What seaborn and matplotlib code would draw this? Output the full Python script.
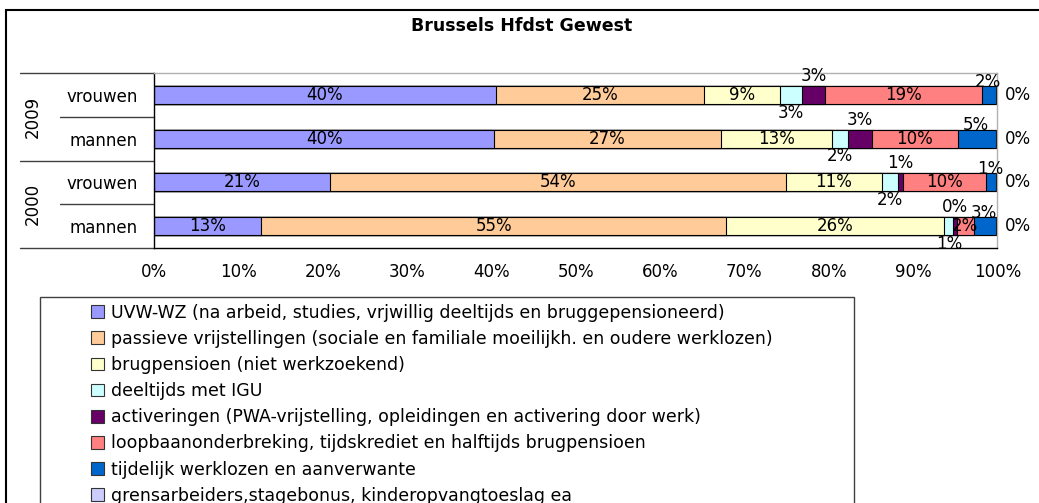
import matplotlib
matplotlib.use("Agg")
import matplotlib.pyplot as plt
import matplotlib.transforms as mtransforms
from matplotlib.patches import Patch, Rectangle
import numpy as np
import pandas as pd
import seaborn as sns

# rows, top to bottom
years = ["2009", "2009", "2000", "2000"]
genders = ["vrouwen", "mannen", "vrouwen", "mannen"]

# shares in % per series
uvw = [40.5, 40.3, 20.8, 12.7]
passief = [24.7, 26.9, 54.1, 55.1]
brug = [9.0, 13.2, 11.4, 25.9]
igu = [2.6, 1.9, 1.9, 1.1]
activ = [2.8, 2.8, 0.6, 0.4]
loopbaan = [18.6, 10.2, 9.9, 2.0]
tijdelijk = [1.7, 4.6, 1.2, 2.7]
grens = [0.1, 0.1, 0.1, 0.1]

series_names = [
    "UVW-WZ (na arbeid, studies, vrjwillig deeltijds en bruggepensioneerd)",
    "passieve vrijstellingen (sociale en familiale moeilijkh. en oudere werklozen)",
    "brugpensioen (niet werkzoekend)",
    "deeltijds met IGU",
    "activeringen (PWA-vrijstelling, opleidingen en activering door werk)",
    "loopbaanonderbreking, tijdskrediet en halftijds brugpensioen",
    "tijdelijk werklozen en aanverwante",
    "grensarbeiders,stagebonus, kinderopvangtoeslag ea",
]
series_values = [uvw, passief, brug, igu, activ, loopbaan, tijdelijk, grens]
colors = ["#9999FF", "#FFCC99", "#FFFFCC", "#CCFFFF",
          "#660066", "#FF8080", "#0066CC", "#CCCCFF"]
# where the value label sits for each series
label_pos = ["in", "in", "in", "below", "above", "in", "edge", "right"]

xticks = list(range(0, 101, 10))

sns.set_style("white")
plt.rcParams["font.family"] = ["DejaVu Sans"]
plt.rcParams["text.color"] = "black"
plt.rcParams["xtick.color"] = "black"
plt.rcParams["ytick.color"] = "black"
plt.rcParams["xtick.labelcolor"] = "black"
plt.rcParams["ytick.labelcolor"] = "black"
FS = 12

row_ids = [f"{y} {g}" for y, g in zip(years, genders)]
df = pd.DataFrame(np.array(series_values).T, columns=series_names, index=row_ids)
cum = df.cumsum(axis=1)
left = cum - df

fig = plt.figure(figsize=(10.39, 5.03), dpi=100)
ax = fig.add_axes([154.3 / 1039, (503 - 248) / 503, 843 / 1039, 175 / 503])

# stacked bars: draw cumulative totals from longest to shortest
for name, color in reversed(list(zip(series_names, colors))):
    sns.barplot(x=cum[name].values, y=row_ids, order=row_ids, orient="h",
                color=color, width=0.41, edgecolor="black", linewidth=0.8,
                errorbar=None, saturation=1, ax=ax)

# value labels
for name, pos in zip(series_names, label_pos):
    for i, rid in enumerate(row_ids):
        v = df.loc[rid, name]
        txt = f"{round(v):.0f}%"
        xc = left.loc[rid, name] + v / 2
        if pos == "in":
            ax.text(xc, i, txt, ha="center", va="center", fontsize=FS)
        elif pos == "below":
            ax.annotate(txt, (xc, i), xytext=(0, -12.7), textcoords="offset points",
                        ha="center", va="center", fontsize=FS)
        elif pos == "above":
            ax.annotate(txt, (xc, i), xytext=(0, 13.7), textcoords="offset points",
                        ha="center", va="center", fontsize=FS)
        elif pos == "edge":
            ax.annotate(txt, (xc, i), xytext=(-1, 9.6), textcoords="offset points",
                        ha="center", va="center", fontsize=FS)
        else:
            ax.annotate(txt, (cum.loc[rid, name], i), xytext=(5.5, 0),
                        textcoords="offset points", ha="left", va="center",
                        fontsize=FS)

ax.set_xlim(0, 100)
ax.set_ylim(3.5, -0.5)
ax.set_xticks(xticks)
ax.set_xticklabels([f"{t}%" for t in xticks], fontsize=FS)
ax.set_yticks(range(len(row_ids)))
ax.set_yticklabels(genders, fontsize=FS)
ax.set_xlabel("")
ax.set_ylabel("")
ax.tick_params(axis="x", direction="out", length=4, width=0.8, color="black", pad=7)
ax.tick_params(axis="y", length=0, pad=12)
for s in ["left", "bottom"]:
    ax.spines[s].set_color("black")
    ax.spines[s].set_linewidth(1.0)
for s in ["top", "right"]:
    ax.spines[s].set_color("#B0B0B0")
    ax.spines[s].set_linewidth(1.0)

# category group lines and year labels on the left
trans = mtransforms.blended_transform_factory(ax.transAxes, ax.transData)
for yb in [-0.5, 1.5, 3.5]:
    ax.plot([-0.159, 0], [yb, yb], color="#404040", lw=1.0, transform=trans,
            clip_on=False)
for yb in [0.5, 2.5]:
    ax.plot([-0.112, 0], [yb, yb], color="#404040", lw=1.0, transform=trans,
            clip_on=False)
for k, yr in enumerate(["2009", "2000"]):
    ax.text(-0.144, 0.5 + 2 * k, yr, rotation=90, ha="center", va="center",
            fontsize=FS, transform=trans)

fig.text(522 / 1039, (503 - 26) / 503, "Brussels Hfdst Gewest", ha="center",
         va="center", fontsize=12.5, fontweight="bold")

# outer chart border and legend box
fig.patches.append(Rectangle((6 / 1039, -0.1), 1.1, (503 - 10) / 503 + 0.1,
                             transform=fig.transFigure, fill=False,
                             edgecolor="black", lw=1.5))
fig.patches.append(Rectangle((40 / 1039, -0.1), (854 - 40) / 1039,
                             (503 - 297) / 503 + 0.1, transform=fig.transFigure,
                             fill=False, edgecolor="#404040", lw=1.0))

handles = [Patch(facecolor=c, edgecolor="#333333", linewidth=0.8) for c in colors]
leg = fig.legend(handles, series_names, loc="upper left",
                 bbox_to_anchor=(82 / 1039, (503 - 295) / 503), frameon=False,
                 borderpad=0, handlelength=0.75, handleheight=0.75,
                 handletextpad=0.4, labelspacing=0.47, fontsize=12.5)
for t in leg.get_texts():
    t.set_color("black")

fig.savefig("out.png", dpi=100)
